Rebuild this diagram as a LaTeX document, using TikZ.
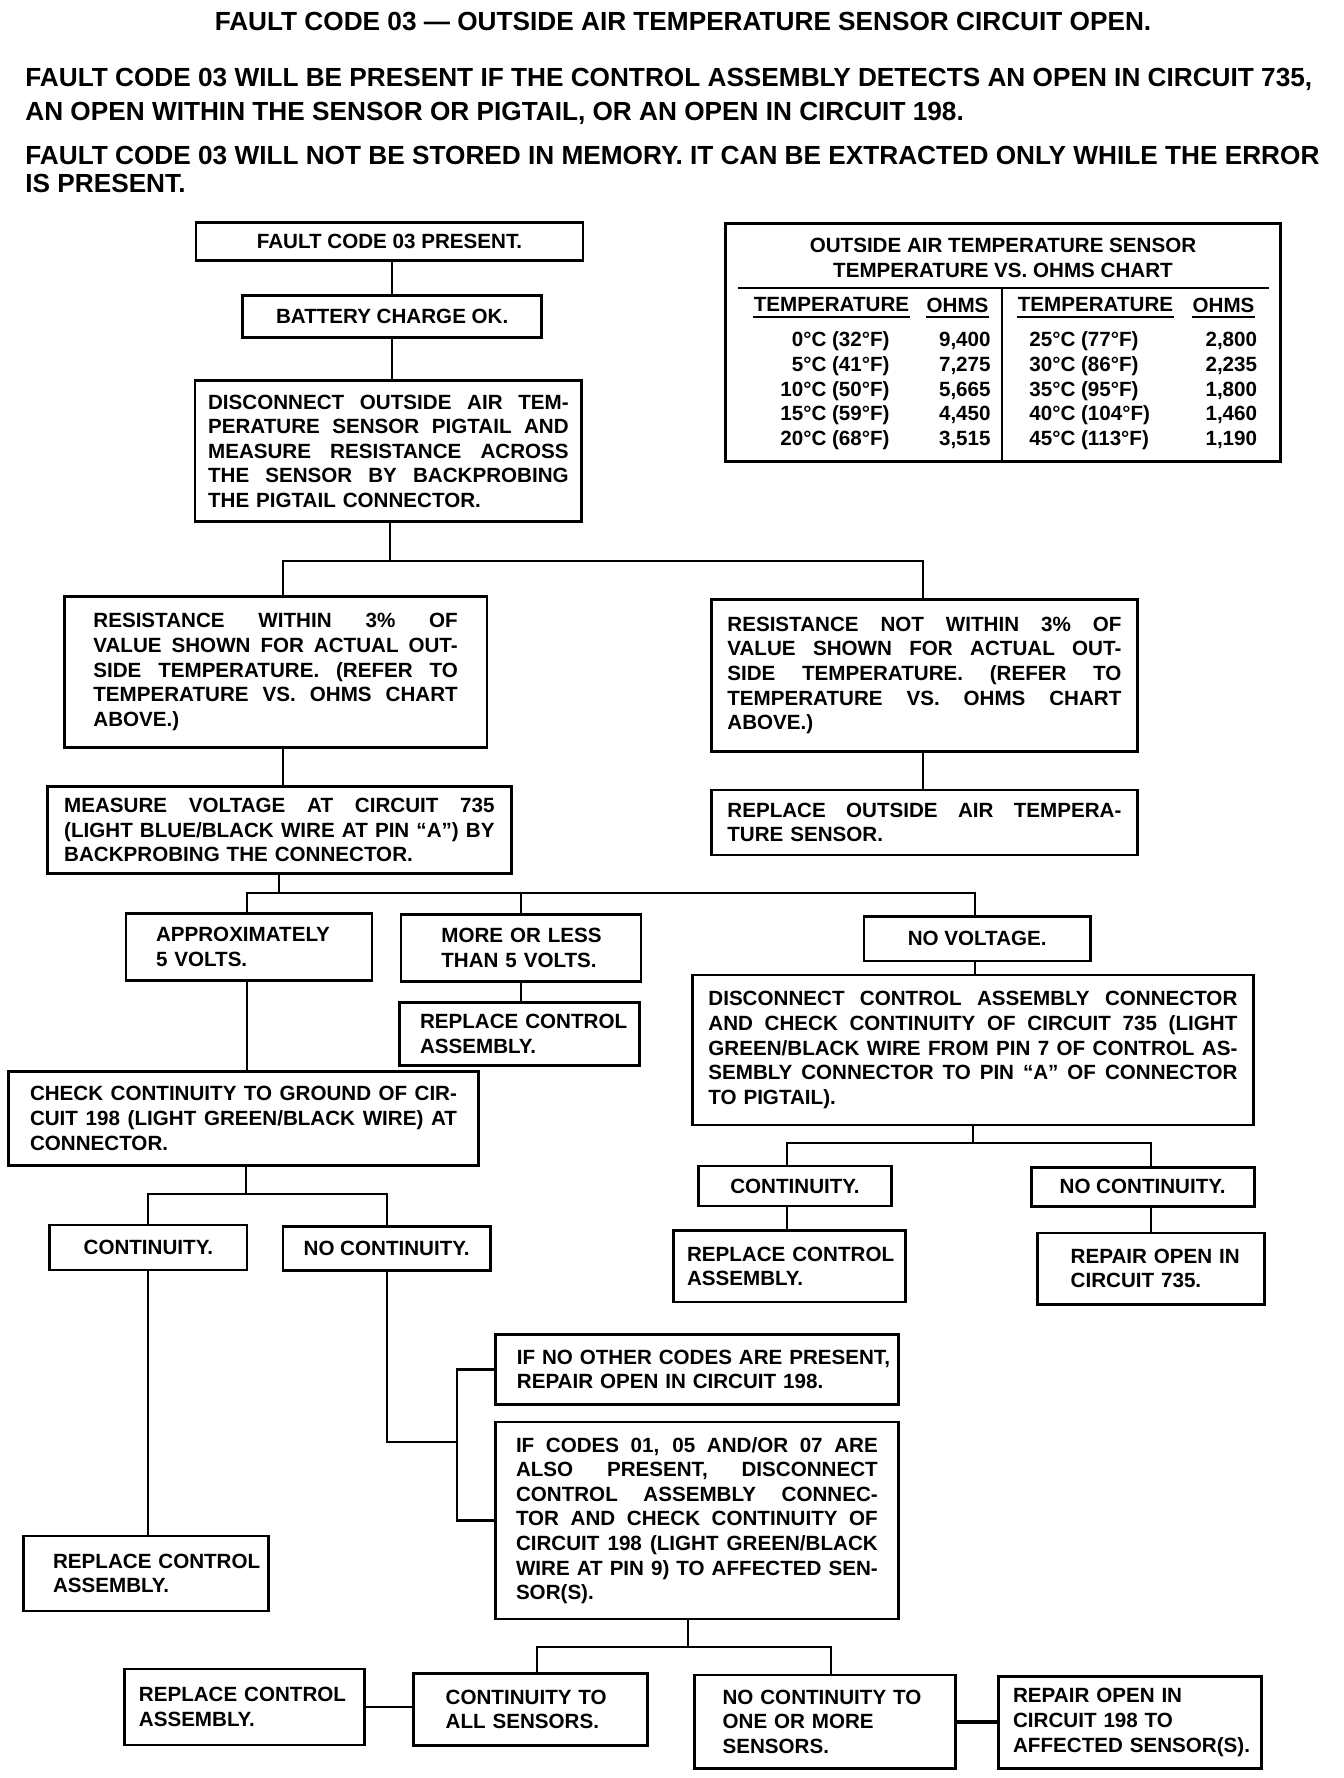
\documentclass[tikz,border=0pt]{standalone}
\usepackage{fontspec}
\setmainfont{Liberation Sans}
\usepackage{tikz}
\usetikzlibrary{positioning,calc}
\setlength{\parindent}{0pt}
\hyphenpenalty=10000
\exhyphenpenalty=10000
\newcommand{\boxfont}{\fontsize{10.3}{12.3}\selectfont\bfseries}
\newcommand{\topfont}{\fontsize{13.1}{16}\selectfont\bfseries}
\newlength{\jw}
\newcommand{\jl}[1]{\makebox[\jw][s]{\spaceskip=0pt\relax\xspaceskip=0pt\relax #1}}% a justified line inside a box
\tikzset{
	box/.style={draw, line width=1.4pt, inner sep=0pt, align=left, font=\boxfont}, % every step of the chart
	cbox/.style={box, align=center}, % one line, centred
	jtext/.style={text width=#1, execute at begin node={\setlength{\jw}{#1}}}, % width of the justified lines
	note/.style={inner sep=0pt, font=\topfont},
	cell/.style={inner sep=0pt, font=\boxfont},
	wire/.style={line width=1.1pt}, % the plain joining lines
	rule/.style={line width=1pt}
}

\begin{document}
\begin{tikzpicture}[x=0.5pt, y=-0.5pt]
\path[use as bounding box, fill=white] (0,0) rectangle (1344,1778);

% heading
\node[note] (title) at (683,21) {FAULT CODE 03 --- OUTSIDE AIR TEMPERATURE SENSOR CIRCUIT OPEN.};
\node[note, anchor=west] (parA) at (25,79) {FAULT CODE 03 WILL BE PRESENT IF THE CONTROL ASSEMBLY DETECTS AN OPEN IN CIRCUIT 735,};
\node[note, anchor=west] (parB) at (25,113) {AN OPEN WITHIN THE SENSOR OR PIGTAIL, OR AN OPEN IN CIRCUIT 198.};
\node[note, anchor=west] (parC) at (25,155) {FAULT CODE 03 WILL NOT BE STORED IN MEMORY. IT CAN BE EXTRACTED ONLY WHILE THE ERROR};
\node[note, anchor=west] (parD) at (25,183) {IS PRESENT.};

% chart
\node[box, line width=1.5pt, minimum width=277.3pt, minimum height=118.8pt] (chart) at (1002.7,342.2) {};
\node[cell, align=center, font=\fontsize{10.3}{12.5}\selectfont\bfseries] (charttitle) at (1003,257.5) {OUTSIDE AIR TEMPERATURE SENSOR\\TEMPERATURE VS. OHMS CHART};
\coordinate (ruleL) at (738,288);
\coordinate (ruleR) at (1269,288);
\coordinate (divtop) at (1002,288);
\draw[rule] (ruleL) -- (ruleR);
\draw[rule] (divtop) -- (divtop |- chart.south);
\node[cell] (hT1) at (831.5,305) {TEMPERATURE};
\node[cell] (hO1) at (957.5,305) {OHMS};
\node[cell] (hT2) at (1095.5,305) {TEMPERATURE};
\node[cell] (hO2) at (1223.5,305) {OHMS};
\foreach \h in {hT1,hO1,hT2,hO2}
	\draw[rule] ([yshift=-2.5pt]\h.base west) -- ([yshift=-2.5pt]\h.base east);
\foreach \tA/\oA/\tB/\oB [count=\i, evaluate=\i as \ry using 321.75+24.75*\i] in
	{0°C (32°F)/9{,}400/25°C (77°F)/2{,}800,
	 5°C (41°F)/7{,}275/30°C (86°F)/2{,}235,
	 10°C (50°F)/5{,}665/35°C (95°F)/1{,}800,
	 15°C (59°F)/4{,}450/40°C (104°F)/1{,}460,
	 20°C (68°F)/3{,}515/45°C (113°F)/1{,}190}{
	\node[cell, anchor=base east] (tl\i) at (890,\ry) {\tA};
	\node[cell, anchor=base east] (ol\i) at (991,\ry) {\oA};
	\node[cell, anchor=base west] (tr\i) at (1029,\ry) {\tB};
	\node[cell, anchor=base east] (or\i) at (1257.5,\ry) {\oB};
}

% steps
\node[cbox, minimum width=193.5pt, minimum height=19pt] (fault) at (389.5,241.7) {FAULT CODE 03 PRESENT.};
\node[cbox, minimum width=149.6pt, minimum height=21pt] (battery) at (392.2,316.7) {BATTERY CHARGE OK.};
\node[box, minimum width=193.4pt, minimum height=70.5pt, jtext=180.3pt] (disc) at (388.4,451.2)
	{\jl{DISCONNECT OUTSIDE AIR TEM-}\\\jl{PERATURE SENSOR PIGTAIL AND}\\\jl{MEASURE RESISTANCE ACROSS}\\\jl{THE SENSOR BY BACKPROBING}\\THE PIGTAIL CONNECTOR.};
\node[box, minimum width=211.3pt, minimum height=75.3pt, jtext=182.2pt] (resok) at (275.6,672)
	{\jl{RESISTANCE WITHIN 3\% OF}\\\jl{VALUE SHOWN FOR ACTUAL OUT-}\\\jl{SIDE TEMPERATURE. (REFER TO}\\\jl{TEMPERATURE VS. OHMS CHART}\\ABOVE.)};
\node[box, minimum width=213pt, minimum height=76.2pt, jtext=197pt] (resnot) at (924.4,675.5)
	{\jl{RESISTANCE NOT WITHIN 3\% OF}\\\jl{VALUE SHOWN FOR ACTUAL OUT-}\\\jl{SIDE TEMPERATURE. (REFER TO}\\\jl{TEMPERATURE VS. OHMS CHART}\\ABOVE.)};
\node[box, minimum width=232.3pt, minimum height=43.3pt, jtext=215.2pt] (meas) at (279.4,830)
	{\jl{MEASURE VOLTAGE AT CIRCUIT 735}\\\jl{(LIGHT BLUE/BLACK WIRE AT PIN ``A'') BY}\\BACKPROBING THE CONNECTOR.};
\node[box, minimum width=213pt, minimum height=32.5pt, jtext=197pt] (repout) at (924.4,822.5)
	{\jl{REPLACE OUTSIDE AIR TEMPERA-}\\TURE SENSOR.};
\node[box, minimum width=123pt, minimum height=33.7pt, text width=93pt] (approx) at (249,947)
	{APPROXIMATELY\\5~VOLTS.};
\node[box, minimum width=120pt, minimum height=33.7pt, text width=79.6pt] (more) at (521,948)
	{MORE~OR~LESS\\THAN~5~VOLTS.};
\node[box, minimum width=120pt, minimum height=31.2pt, text width=99.4pt] (rep1) at (519.4,1033.9)
	{REPLACE~CONTROL\\ASSEMBLY.};
\node[cbox, minimum width=113.2pt, minimum height=22.2pt] (novolt) at (977.2,938.8) {NO VOLTAGE.};
\node[box, minimum width=280.3pt, minimum height=75pt, jtext=264.5pt] (dcc) at (972.9,1050)
	{\jl{DISCONNECT CONTROL ASSEMBLY CONNECTOR}\\\jl{AND CHECK CONTINUITY OF CIRCUIT 735 (LIGHT}\\\jl{GREEN/BLACK WIRE FROM PIN 7 OF CONTROL AS-}\\\jl{SEMBLY CONNECTOR TO PIN ``A'' OF CONNECTOR}\\TO PIGTAIL).};
\node[box, minimum width=234.9pt, minimum height=46.7pt, jtext=213.5pt] (check) at (243.5,1118.4)
	{\jl{CHECK CONTINUITY TO GROUND OF CIR-}\\\jl{CUIT 198 (LIGHT GREEN/BLACK WIRE) AT}\\CONNECTOR.};
\node[cbox, minimum width=96.4pt, minimum height=20pt] (cont2) at (795,1186) {CONTINUITY.};
\node[cbox, minimum width=111.5pt, minimum height=19.4pt] (nocont2) at (1142.6,1186.7) {NO CONTINUITY.};
\node[box, minimum width=115.7pt, minimum height=35.7pt, text width=102.4pt] (rep2) at (789.4,1266.3)
	{REPLACE~CONTROL\\ASSEMBLY.};
\node[box, minimum width=113.4pt, minimum height=35.7pt, text width=80.5pt] (rep735) at (1151.2,1268.6)
	{REPAIR~OPEN~IN\\CIRCUIT~735.};
\node[cbox, minimum width=98.6pt, minimum height=22.5pt] (cont1) at (148.3,1247.5) {CONTINUITY.};
\node[cbox, minimum width=103.7pt, minimum height=22pt] (nocont1) at (386.6,1248.7) {NO CONTINUITY.};
\node[box, minimum width=122.6pt, minimum height=37.5pt, text width=92.6pt] (rep3) at (145.7,1573.5)
	{REPLACE~CONTROL\\ASSEMBLY.};
\node[box, minimum width=201.5pt, minimum height=35pt, text width=180pt] (ifno) at (696.9,1369.5)
	{IF~NO~OTHER~CODES~ARE~PRESENT,\\REPAIR~OPEN~IN~CIRCUIT~198.};
\node[box, minimum width=201.5pt, minimum height=98.5pt, jtext=180.9pt] (ifcodes) at (696.9,1520.5)
	{\jl{IF CODES 01, 05 AND/OR 07 ARE}\\\jl{ALSO PRESENT, DISCONNECT}\\\jl{CONTROL ASSEMBLY CONNEC-}\\\jl{TOR AND CHECK CONTINUITY OF}\\\jl{CIRCUIT 198 (LIGHT GREEN/BLACK}\\\jl{WIRE AT PIN 9) TO AFFECTED SEN-}\\SOR(S).};
\node[box, minimum width=120pt, minimum height=38pt, text width=105.4pt] (rep4) at (244.3,1707)
	{REPLACE~CONTROL\\ASSEMBLY.};
\node[box, minimum width=117pt, minimum height=35.9pt, text width=84.4pt] (contall) at (530.1,1709.2)
	{CONTINUITY~TO\\ALL~SENSORS.};
\node[box, minimum width=130.7pt, minimum height=46.7pt, text width=102.4pt] (nocontto) at (825,1721.7)
	{NO~CONTINUITY~TO\\ONE~OR~MORE\\SENSORS.};
\node[box, minimum width=131.6pt, minimum height=45.8pt, text width=117.1pt] (rep198) at (1130.2,1722.5)
	{REPAIR~OPEN~IN\\CIRCUIT~198~TO\\AFFECTED~SENSOR(S).};

% joining lines
\draw[wire] (battery.north) -- (battery.north |- fault.south);
\draw[wire] (battery.south) -- (battery.south |- disc.north);

\coordinate (s1) at (390,560.7);
\coordinate (s1l) at (283,560.7);
\coordinate (s1r) at (923,560.7);
\draw[wire] (disc.south -| s1) -- (s1);
\draw[wire] (s1l |- resok.north) -- (s1l) -- (s1r) -- (s1r |- resnot.north);
\draw[wire] (s1l |- resok.south) -- (s1l |- meas.north);
\draw[wire] (s1r |- resnot.south) -- (s1r |- repout.north);

\coordinate (s2) at (279,893.3);
\coordinate (s2l) at (247,893.3);
\coordinate (s2m) at (521,893.3);
\coordinate (s2r) at (975,893.3);
\draw[wire] (meas.south -| s2) -- (s2);
\draw[wire] (s2l |- approx.north) -- (s2l) -- (s2r) -- (s2r |- novolt.north);
\draw[wire] (s2m) -- (s2m |- more.north);
\draw[wire] (s2l |- approx.south) -- (s2l |- check.north);
\draw[wire] (s2m |- more.south) -- (s2m |- rep1.north);
\draw[wire] (s2r |- novolt.south) -- (s2r |- dcc.north);

\coordinate (s3) at (973,1143.3);
\coordinate (s3l) at (787,1143.3);
\coordinate (s3r) at (1151,1143.3);
\draw[wire] (dcc.south -| s3) -- (s3);
\draw[wire] (s3l |- cont2.north) -- (s3l) -- (s3r) -- (s3r |- nocont2.north);
\draw[wire] (s3l |- cont2.south) -- (s3l |- rep2.north);
\draw[wire] (s3r |- nocont2.south) -- (s3r |- rep735.north);

\coordinate (s4) at (246,1194.3);
\draw[wire] (check.south -| s4) -- (s4);
\draw[wire] (cont1.north) |- (s4) -| (nocont1.north);
\draw[wire] (cont1.south) -- (cont1.south |- rep3.north);

\coordinate (brk) at (457,1441.7);
\draw[wire] (nocont1.south) |- (brk);
\draw[wire] (ifno.west) -| (brk) |- (ifcodes.west);

\coordinate (s5) at (688,1646.7);
\coordinate (s5l) at (537,1646.7);
\coordinate (s5r) at (831,1646.7);
\draw[wire] (ifcodes.south -| s5) -- (s5);
\draw[wire] (s5l |- contall.north) -- (s5l) -- (s5r) -- (s5r |- nocontto.north);
\draw[wire] (rep4.east) -- (rep4.east -| contall.west);
\draw[wire, line width=2pt] (nocontto.east) -- (nocontto.east -| rep198.west);
\end{tikzpicture}
\end{document}
